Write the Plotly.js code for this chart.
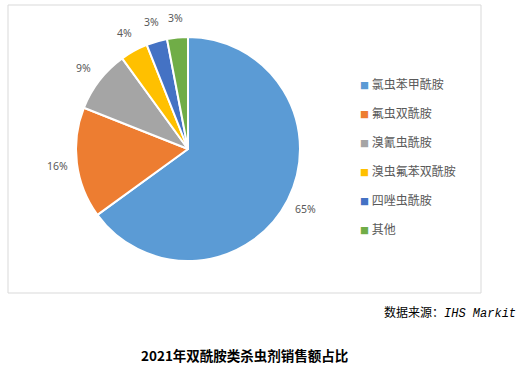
<!DOCTYPE html>
<html>
<head>
<meta charset="utf-8">
<script src="https://cdn.plot.ly/plotly-3.0.1.min.js"></script>
<style>html,body{margin:0;padding:0;background:#fff;}#chart{width:530px;height:370px;}</style>
</head>
<body>
<div id="chart"></div>
<script>
const categories = ['氯虫苯甲酰胺', '氟虫双酰胺', '溴氰虫酰胺', '溴虫氟苯双酰胺', '四唑虫酰胺', '其他'];
const shares = [65, 16, 9, 4, 3, 3];
const colors = ['#5B9BD5', '#ED7D31', '#A5A5A5', '#FFC000', '#4472C4', '#70AD47'];
const chartTitle = '2021年双酰胺类杀虫剂销售额占比';
const sourceLabel = '数据来源：';
const sourceName = 'IHS Markit';

const W = 530, H = 370;
const cx = 188, cy = 149, r = 112, labelR = 132;

const traces = [{
  type: 'pie',
  labels: categories,
  values: shares,
  sort: false,
  direction: 'clockwise',
  rotation: 0,
  marker: {colors: colors, line: {color: '#ffffff', width: 2}},
  textinfo: 'none',
  showlegend: false,
  hoverinfo: 'label+percent',
  domain: {x: [(cx - r) / W, (cx + r) / W], y: [1 - (cy + r) / H, 1 - (cy - r) / H]}
}];

categories.forEach((c, i) => {
  traces.push({
    type: 'scatter', mode: 'lines', x: [null], y: [null],
    line: {width: 0, color: colors[i]},
    name: '<span style="font-size:9px;color:' + colors[i] + '">■</span><span style="font-size:12px"> ' + c + '</span>',
    showlegend: true, hoverinfo: 'skip'
  });
});

// percentage labels placed outside each slice, derived from the shares
const total = shares.reduce((a, b) => a + b, 0);
const pctAnnotations = [];
let cum = 0;
shares.forEach((v) => {
  const mid = (cum + v / 2) / total * 2 * Math.PI;
  cum += v;
  const px = cx + labelR * Math.sin(mid);
  const py = cy - labelR * Math.cos(mid);
  pctAnnotations.push({
    xref: 'paper', yref: 'paper', x: px / W, y: 1 - py / H,
    xanchor: 'center', yanchor: 'middle', showarrow: false,
    text: Math.round(v / total * 100) + '%',
    font: {family: 'Noto Sans, sans-serif', size: 10.5, color: '#595959'}
  });
});

const layout = {
  width: W, height: H,
  margin: {l: 0, r: 0, t: 0, b: 0},
  paper_bgcolor: '#ffffff', plot_bgcolor: '#ffffff',
  font: {family: '"Noto Sans CJK SC", "Noto Sans", sans-serif', color: '#595959'},
  xaxis: {visible: false, domain: [0.9, 0.95]},
  yaxis: {visible: false, domain: [0.9, 0.95]},
  showlegend: true,
  legend: {
    x: 320 / W, y: 1 - 62 / H, xanchor: 'left', yanchor: 'top',
    font: {size: 20, color: '#595959', family: '"Noto Sans CJK SC", sans-serif'},
    bgcolor: 'rgba(0,0,0,0)', itemwidth: 30, itemclick: false, itemdoubleclick: false
  },
  shapes: [{
    type: 'rect', xref: 'paper', yref: 'paper',
    x0: 8 / W, x1: 481 / W, y0: 1 - 293 / H, y1: 1 - 5 / H,
    line: {color: '#D9D9D9', width: 1}, fillcolor: 'rgba(0,0,0,0)'
  }],
  annotations: pctAnnotations.concat([
    {xref: 'paper', yref: 'paper', x: 518 / W, y: 1 - 312 / H, xanchor: 'right', yanchor: 'middle', showarrow: false,
     text: sourceLabel + '<i><span style="font-family:Liberation Mono, DejaVu Sans Mono, monospace">' + sourceName + '</span></i>',
     font: {size: 12, color: '#000000', family: '"Noto Sans CJK SC", sans-serif'}},
    {xref: 'paper', yref: 'paper', x: 244 / W, y: 1 - 355 / H, xanchor: 'center', yanchor: 'middle', showarrow: false,
     text: '<b>' + chartTitle + '</b>',
     font: {size: 13.5, color: '#000000', family: '"Noto Sans CJK SC", sans-serif'}}
  ])
};

Plotly.newPlot('chart', traces, layout, {displayModeBar: false, staticPlot: true});
</script>
</body>
</html>
